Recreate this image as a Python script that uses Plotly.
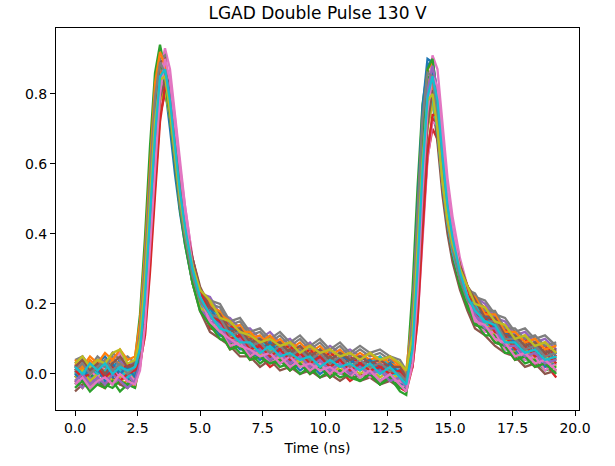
import plotly.graph_objects as go

time_ns = [0.0, 0.3, 0.6, 0.9, 1.2, 1.5, 1.8, 2.1, 2.4,
           2.6, 2.8, 3.0, 3.2, 3.4, 3.6, 3.8, 4.0, 4.2, 4.4, 4.7, 5.0,
           5.4, 5.8, 6.2, 6.6, 7.0, 7.4, 7.8, 8.2, 8.6, 9.0, 9.4, 9.8, 10.2, 10.6,
           11.0, 11.4, 11.8, 12.2, 12.6, 13.0, 13.25,
           13.5, 13.7, 13.9, 14.1, 14.3, 14.5, 14.7, 14.9, 15.1, 15.4, 15.7,
           16.0, 16.4, 16.8, 17.2, 17.6, 18.0, 18.4, 18.8, 19.25]

w01 = [0.02, 0.04, 0.01, 0.03, 0.05, 0.02, 0.04, 0.01, 0.03,
       0.10, 0.27, 0.49, 0.73, 0.85, 0.86, 0.75, 0.61, 0.49, 0.40, 0.29, 0.22,
       0.20, 0.15, 0.14, 0.13, 0.09, 0.10, 0.07, 0.09, 0.06, 0.08, 0.05, 0.07, 0.04, 0.06, 0.03, 0.05, 0.04, 0.02, 0.04, 0.01,
       -0.01,
       0.11, 0.39, 0.68, 0.88, 0.90, 0.79, 0.61, 0.49, 0.40, 0.30, 0.24,
       0.21, 0.16, 0.16, 0.11, 0.11, 0.08, 0.09, 0.06, 0.07]
w02 = [-0.02, -0.04, -0.01, -0.03, -0.04, -0.01, -0.03, -0.02, -0.04,
       0.03, 0.17, 0.39, 0.63, 0.81, 0.84, 0.76, 0.63, 0.50, 0.40, 0.27, 0.19,
       0.14, 0.13, 0.08, 0.09, 0.05, 0.06, 0.03, 0.05, 0.02, 0.04, 0.01, 0.03, 0.00, 0.02, 0.01, -0.01, 0.01, -0.02, 0.00, -0.03,
       -0.03,
       0.05, 0.30, 0.59, 0.81, 0.87, 0.80, 0.64, 0.50, 0.40, 0.28, 0.21,
       0.15, 0.14, 0.10, 0.09, 0.05, 0.06, 0.03, 0.04, 0.01]
w03 = [0.00, 0.02, -0.01, 0.01, 0.03, 0.00, 0.02, -0.01, 0.04,
       0.17, 0.39, 0.65, 0.86, 0.94, 0.87, 0.74, 0.60, 0.48, 0.39, 0.28, 0.20,
       0.18, 0.13, 0.12, 0.08, 0.09, 0.06, 0.08, 0.05, 0.06, 0.03, 0.05, 0.02, 0.04, 0.02, 0.03, 0.01, 0.03, 0.00, 0.02, -0.01,
       -0.02,
       0.24, 0.53, 0.77, 0.87, 0.84, 0.69, 0.54, 0.43, 0.35, 0.26, 0.20,
       0.19, 0.14, 0.14, 0.09, 0.09, 0.06, 0.07, 0.04, 0.05]
w04 = [-0.01, 0.01, -0.03, -0.01, -0.03, 0.01, -0.02, 0.00, -0.02,
       0.02, 0.13, 0.33, 0.55, 0.74, 0.80, 0.74, 0.63, 0.51, 0.41, 0.29, 0.21,
       0.13, 0.12, 0.07, 0.08, 0.04, 0.05, 0.02, 0.04, 0.01, 0.03, 0.00, 0.02, -0.01, 0.01, -0.02, 0.00, -0.01, -0.02, -0.01, -0.04,
       -0.05,
       0.02, 0.18, 0.42, 0.62, 0.70, 0.67, 0.55, 0.44, 0.36, 0.29, 0.23,
       0.14, 0.13, 0.09, 0.08, 0.04, 0.05, 0.02, 0.03, -0.01]
w05 = [0.03, 0.05, 0.02, 0.04, 0.02, 0.06, 0.04, 0.02, 0.04,
       0.11, 0.29, 0.51, 0.76, 0.89, 0.90, 0.79, 0.65, 0.52, 0.42, 0.30, 0.23,
       0.22, 0.17, 0.16, 0.13, 0.13, 0.10, 0.12, 0.09, 0.10, 0.07, 0.09, 0.06, 0.08, 0.06, 0.07, 0.05, 0.06, 0.04, 0.05, 0.03,
       0.00,
       0.12, 0.38, 0.65, 0.82, 0.84, 0.74, 0.58, 0.46, 0.38, 0.30, 0.24,
       0.22, 0.20, 0.16, 0.15, 0.11, 0.12, 0.09, 0.10, 0.07]
w06 = [-0.05, -0.03, -0.04, -0.02, -0.04, -0.01, -0.03, -0.04, -0.01,
       0.08, 0.28, 0.53, 0.76, 0.88, 0.84, 0.73, 0.59, 0.47, 0.38, 0.26, 0.18,
       0.12, 0.10, 0.08, 0.05, 0.05, 0.02, 0.04, 0.01, 0.02, 0.00, 0.01, -0.01, 0.00, -0.02, 0.00, -0.02, -0.01, -0.03, -0.02, -0.04,
       -0.04,
       0.13, 0.40, 0.65, 0.79, 0.78, 0.66, 0.51, 0.40, 0.32, 0.24, 0.18,
       0.13, 0.11, 0.08, 0.06, 0.05, 0.02, 0.03, 0.00, 0.01]
w07 = [0.01, 0.03, 0.00, 0.03, 0.01, 0.04, 0.06, 0.02, 0.01,
       0.05, 0.18, 0.40, 0.65, 0.86, 0.93, 0.87, 0.74, 0.60, 0.48, 0.33, 0.24,
       0.18, 0.16, 0.11, 0.12, 0.08, 0.09, 0.06, 0.09, 0.05, 0.07, 0.04, 0.06, 0.03, 0.05, 0.02, 0.04, 0.02, 0.04, 0.01, 0.02,
       -0.01,
       0.04, 0.25, 0.55, 0.80, 0.91, 0.87, 0.72, 0.56, 0.45, 0.33, 0.25,
       0.20, 0.15, 0.15, 0.10, 0.10, 0.07, 0.08, 0.05, 0.06]
w08 = [0.04, 0.05, 0.02, 0.05, 0.03, 0.06, 0.04, 0.05, 0.03,
       0.12, 0.30, 0.53, 0.78, 0.90, 0.91, 0.80, 0.66, 0.54, 0.44, 0.31, 0.24,
       0.21, 0.20, 0.15, 0.16, 0.12, 0.13, 0.10, 0.12, 0.09, 0.11, 0.08, 0.10, 0.07, 0.09, 0.06, 0.08, 0.06, 0.07, 0.05, 0.04,
       0.01,
       0.11, 0.37, 0.63, 0.80, 0.82, 0.73, 0.57, 0.46, 0.38, 0.31, 0.25,
       0.22, 0.21, 0.17, 0.16, 0.12, 0.13, 0.10, 0.11, 0.08]
w09 = [-0.02, 0.00, -0.03, -0.01, 0.00, -0.03, -0.02, -0.01, -0.03,
       0.03, 0.17, 0.38, 0.61, 0.79, 0.83, 0.75, 0.62, 0.50, 0.40, 0.27, 0.19,
       0.17, 0.12, 0.11, 0.08, 0.08, 0.05, 0.07, 0.04, 0.05, 0.02, 0.04, 0.01, 0.03, 0.01, 0.02, 0.00, 0.02, -0.01, 0.01, -0.02,
       -0.03,
       0.05, 0.25, 0.51, 0.70, 0.77, 0.71, 0.56, 0.44, 0.35, 0.26, 0.20,
       0.16, 0.15, 0.11, 0.10, 0.06, 0.07, 0.04, 0.05, 0.02]
w10 = [0.00, 0.02, 0.01, 0.03, -0.01, 0.02, 0.00, 0.02, -0.01,
       0.05, 0.19, 0.39, 0.62, 0.79, 0.82, 0.74, 0.62, 0.49, 0.39, 0.27, 0.20,
       0.16, 0.15, 0.10, 0.11, 0.07, 0.08, 0.05, 0.07, 0.04, 0.06, 0.03, 0.05, 0.02, 0.04, 0.02, 0.03, 0.01, 0.03, 0.00, 0.00,
       -0.02,
       0.06, 0.28, 0.54, 0.74, 0.80, 0.74, 0.58, 0.46, 0.37, 0.28, 0.22,
       0.19, 0.14, 0.14, 0.09, 0.09, 0.06, 0.07, 0.03, 0.05]
w11 = [-0.01, 0.01, -0.02, 0.01, -0.02, -0.01, 0.01, -0.02, 0.01,
       0.10, 0.29, 0.52, 0.74, 0.85, 0.82, 0.70, 0.57, 0.46, 0.37, 0.26, 0.19,
       0.15, 0.11, 0.10, 0.07, 0.07, 0.04, 0.06, 0.03, 0.04, 0.01, 0.03, 0.00, 0.02, 0.00, 0.01, -0.01, 0.01, -0.02, 0.00, -0.03,
       -0.03,
       0.16, 0.47, 0.76, 0.90, 0.89, 0.75, 0.58, 0.46, 0.38, 0.29, 0.22,
       0.17, 0.12, 0.12, 0.07, 0.07, 0.04, 0.05, 0.02, 0.03]
w12 = [0.03, 0.01, 0.04, 0.02, 0.01, 0.04, 0.03, 0.01, 0.03,
       0.10, 0.27, 0.50, 0.74, 0.86, 0.87, 0.77, 0.63, 0.51, 0.41, 0.29, 0.22,
       0.19, 0.18, 0.13, 0.14, 0.10, 0.11, 0.08, 0.10, 0.07, 0.09, 0.06, 0.08, 0.05, 0.07, 0.04, 0.06, 0.04, 0.05, 0.03, 0.02,
       0.00,
       0.12, 0.39, 0.68, 0.87, 0.89, 0.78, 0.61, 0.49, 0.40, 0.31, 0.25,
       0.21, 0.19, 0.15, 0.14, 0.10, 0.11, 0.08, 0.09, 0.06]
w13 = [-0.03, -0.01, -0.04, -0.02, -0.03, -0.04, -0.02, -0.03, -0.01,
       0.09, 0.29, 0.54, 0.77, 0.89, 0.85, 0.74, 0.60, 0.48, 0.39, 0.27, 0.19,
       0.14, 0.10, 0.09, 0.06, 0.06, 0.03, 0.05, 0.02, 0.03, 0.00, 0.02, -0.01, 0.01, -0.01, 0.00, -0.02, 0.00, -0.03, -0.01, -0.04,
       -0.04,
       0.14, 0.43, 0.70, 0.85, 0.84, 0.71, 0.55, 0.43, 0.34, 0.25, 0.19,
       0.15, 0.11, 0.11, 0.06, 0.06, 0.03, 0.04, 0.01, 0.02]
w14 = [0.02, 0.00, 0.03, 0.01, 0.04, 0.02, 0.00, 0.03, 0.01,
       0.05, 0.17, 0.37, 0.59, 0.78, 0.83, 0.77, 0.66, 0.54, 0.44, 0.31, 0.23,
       0.20, 0.16, 0.14, 0.11, 0.11, 0.08, 0.10, 0.07, 0.08, 0.05, 0.07, 0.04, 0.06, 0.04, 0.05, 0.03, 0.04, 0.02, 0.03, 0.00,
       -0.02,
       0.03, 0.20, 0.44, 0.64, 0.73, 0.70, 0.58, 0.46, 0.37, 0.30, 0.25,
       0.19, 0.18, 0.14, 0.13, 0.09, 0.10, 0.07, 0.08, 0.05]
w15 = [-0.02, -0.04, -0.01, -0.03, 0.00, -0.03, -0.01, 0.00, -0.03,
       0.06, 0.23, 0.45, 0.69, 0.83, 0.84, 0.74, 0.60, 0.48, 0.38, 0.26, 0.19,
       0.15, 0.14, 0.09, 0.10, 0.06, 0.07, 0.04, 0.06, 0.03, 0.05, 0.02, 0.04, 0.01, 0.03, 0.01, 0.02, 0.00, 0.02, -0.01, -0.02,
       -0.03,
       0.08, 0.33, 0.60, 0.78, 0.81, 0.71, 0.55, 0.43, 0.35, 0.27, 0.21,
       0.18, 0.13, 0.13, 0.08, 0.08, 0.05, 0.06, 0.03, 0.04]
w16 = [0.01, 0.03, 0.02, 0.00, 0.03, 0.00, 0.02, 0.01, 0.03,
       0.09, 0.27, 0.50, 0.75, 0.89, 0.90, 0.79, 0.64, 0.52, 0.42, 0.29, 0.21,
       0.19, 0.14, 0.13, 0.10, 0.10, 0.07, 0.09, 0.06, 0.07, 0.04, 0.06, 0.03, 0.05, 0.03, 0.04, 0.02, 0.04, 0.01, 0.03, 0.00,
       -0.01,
       0.11, 0.37, 0.65, 0.83, 0.85, 0.75, 0.58, 0.46, 0.38, 0.29, 0.23,
       0.18, 0.17, 0.13, 0.12, 0.08, 0.09, 0.06, 0.07, 0.04]
w17 = [0.00, -0.02, 0.01, -0.01, 0.03, 0.01, -0.01, 0.01, -0.02,
       0.03, 0.11, 0.31, 0.55, 0.77, 0.88, 0.84, 0.73, 0.59, 0.48, 0.33, 0.24,
       0.14, 0.13, 0.08, 0.09, 0.05, 0.07, 0.03, 0.05, 0.02, 0.04, 0.01, 0.03, 0.00, 0.03, -0.01, 0.02, -0.01, 0.01, -0.02, -0.02,
       -0.03,
       0.02, 0.15, 0.38, 0.61, 0.72, 0.71, 0.61, 0.47, 0.37, 0.28, 0.21,
       0.16, 0.12, 0.12, 0.07, 0.08, 0.04, 0.05, 0.01, 0.03]
w18 = [0.02, 0.04, 0.01, 0.03, 0.02, 0.05, 0.02, 0.00, 0.02,
       0.07, 0.22, 0.43, 0.67, 0.84, 0.86, 0.78, 0.65, 0.52, 0.42, 0.29, 0.22,
       0.20, 0.19, 0.14, 0.15, 0.11, 0.12, 0.09, 0.11, 0.08, 0.10, 0.07, 0.09, 0.06, 0.08, 0.05, 0.07, 0.05, 0.06, 0.04, 0.03,
       -0.01,
       0.07, 0.30, 0.57, 0.77, 0.83, 0.76, 0.61, 0.47, 0.38, 0.30, 0.24,
       0.23, 0.18, 0.18, 0.13, 0.13, 0.10, 0.11, 0.08, 0.09]
w19 = [-0.01, 0.01, -0.02, 0.00, 0.01, -0.02, -0.01, 0.01, -0.01,
       0.04, 0.18, 0.38, 0.61, 0.78, 0.81, 0.73, 0.61, 0.49, 0.39, 0.26, 0.19,
       0.17, 0.13, 0.12, 0.09, 0.09, 0.06, 0.08, 0.05, 0.06, 0.03, 0.05, 0.02, 0.04, 0.02, 0.03, 0.01, 0.03, 0.00, 0.02, -0.01,
       -0.02,
       0.05, 0.26, 0.52, 0.72, 0.78, 0.72, 0.57, 0.44, 0.36, 0.27, 0.21,
       0.17, 0.16, 0.12, 0.11, 0.07, 0.08, 0.05, 0.06, 0.03]
w20 = [0.01, -0.01, 0.02, 0.00, 0.01, 0.03, 0.01, -0.01, 0.01,
       0.08, 0.25, 0.47, 0.71, 0.83, 0.84, 0.74, 0.61, 0.49, 0.40, 0.28, 0.21,
       0.18, 0.17, 0.12, 0.13, 0.09, 0.10, 0.07, 0.09, 0.06, 0.08, 0.05, 0.07, 0.04, 0.06, 0.04, 0.05, 0.03, 0.05, 0.02, 0.01,
       -0.02,
       0.09, 0.34, 0.59, 0.76, 0.79, 0.69, 0.54, 0.43, 0.35, 0.27, 0.21,
       0.20, 0.16, 0.16, 0.11, 0.11, 0.08, 0.09, 0.05, 0.06]
w21 = [0.00, -0.02, 0.02, 0.01, -0.01, 0.03, 0.00, 0.02, -0.01,
       0.05, 0.20, 0.42, 0.67, 0.84, 0.88, 0.79, 0.66, 0.53, 0.42, 0.31, 0.23,
       0.19, 0.14, 0.13, 0.12, 0.08, 0.07, 0.09, 0.06, 0.05, 0.07, 0.04, 0.05, 0.02, 0.05, 0.04, 0.02, 0.04, 0.01, 0.03, 0.00,
       -0.02,
       0.07, 0.30, 0.58, 0.80, 0.86, 0.79, 0.63, 0.49, 0.40, 0.29, 0.22,
       0.18, 0.17, 0.13, 0.12, 0.09, 0.07, 0.08, 0.05, 0.06]
w22 = [0.04, 0.02, 0.05, 0.03, 0.06, 0.04, 0.07, 0.04, 0.05,
       0.15, 0.35, 0.60, 0.83, 0.92, 0.88, 0.77, 0.63, 0.51, 0.42, 0.31, 0.24,
       0.20, 0.17, 0.15, 0.12, 0.12, 0.09, 0.11, 0.08, 0.09, 0.07, 0.08, 0.05, 0.07, 0.05, 0.06, 0.04, 0.06, 0.03, 0.05, 0.02,
       0.01,
       0.17, 0.45, 0.71, 0.84, 0.83, 0.71, 0.55, 0.44, 0.36, 0.29, 0.23,
       0.22, 0.17, 0.17, 0.12, 0.12, 0.09, 0.10, 0.07, 0.08]
w23 = [-0.04, -0.02, -0.05, -0.03, -0.04, -0.02, -0.05, -0.03, -0.04,
       0.04, 0.21, 0.44, 0.68, 0.83, 0.84, 0.73, 0.59, 0.47, 0.37, 0.26, 0.18,
       0.14, 0.12, 0.07, 0.08, 0.04, 0.05, 0.03, 0.04, 0.01, 0.03, 0.00, 0.02, -0.01, 0.01, -0.01, -0.02, 0.00, -0.03, -0.01, -0.05,
       -0.06,
       0.09, 0.37, 0.67, 0.87, 0.90, 0.79, 0.60, 0.47, 0.38, 0.27, 0.20,
       0.14, 0.13, 0.09, 0.08, 0.04, 0.05, 0.02, 0.03, 0.00]
w24 = [0.01, -0.01, 0.00, 0.02, -0.01, 0.01, -0.02, 0.00, 0.01,
       0.03, 0.11, 0.29, 0.51, 0.72, 0.82, 0.79, 0.68, 0.55, 0.44, 0.33, 0.24,
       0.17, 0.15, 0.10, 0.11, 0.07, 0.08, 0.05, 0.07, 0.04, 0.06, 0.03, 0.05, 0.02, 0.04, 0.01, 0.03, 0.01, 0.02, 0.00, 0.01,
       -0.02,
       0.02, 0.15, 0.40, 0.63, 0.74, 0.74, 0.63, 0.49, 0.39, 0.30, 0.23,
       0.17, 0.16, 0.12, 0.11, 0.07, 0.08, 0.05, 0.06, 0.03]
w25 = [-0.02, 0.00, -0.03, -0.01, -0.03, 0.00, -0.02, -0.04, -0.02,
       0.03, 0.18, 0.40, 0.64, 0.82, 0.87, 0.78, 0.65, 0.52, 0.41, 0.29, 0.21,
       0.16, 0.14, 0.09, 0.10, 0.06, 0.07, 0.04, 0.06, 0.03, 0.05, 0.02, 0.04, 0.01, 0.03, 0.00, 0.02, 0.00, 0.01, -0.02, -0.01,
       -0.04,
       0.05, 0.29, 0.58, 0.81, 0.88, 0.81, 0.64, 0.50, 0.40, 0.28, 0.21,
       0.17, 0.13, 0.13, 0.08, 0.08, 0.05, 0.06, 0.03, 0.04]
w26 = [0.02, 0.04, 0.01, 0.03, 0.00, 0.03, 0.05, 0.02, 0.03,
       0.05, 0.17, 0.37, 0.60, 0.79, 0.84, 0.78, 0.66, 0.54, 0.43, 0.33, 0.25,
       0.19, 0.17, 0.12, 0.13, 0.09, 0.10, 0.08, 0.09, 0.06, 0.08, 0.05, 0.07, 0.04, 0.06, 0.04, 0.05, 0.03, 0.04, 0.02, 0.02,
       -0.01,
       0.04, 0.22, 0.49, 0.71, 0.81, 0.78, 0.64, 0.50, 0.40, 0.31, 0.25,
       0.21, 0.16, 0.16, 0.11, 0.11, 0.08, 0.09, 0.06, 0.07]
w27 = [-0.03, -0.01, -0.04, -0.02, -0.01, -0.03, 0.00, -0.02, -0.03,
       0.01, 0.14, 0.35, 0.59, 0.80, 0.90, 0.84, 0.71, 0.58, 0.46, 0.31, 0.22,
       0.15, 0.12, 0.10, 0.08, 0.07, 0.05, 0.06, 0.03, 0.05, 0.02, 0.03, 0.01, 0.02, 0.00, 0.02, -0.01, 0.01, -0.02, 0.00, -0.03,
       -0.05,
       0.03, 0.23, 0.52, 0.75, 0.85, 0.82, 0.67, 0.52, 0.42, 0.30, 0.22,
       0.15, 0.14, 0.10, 0.09, 0.05, 0.06, 0.03, 0.04, 0.01]
w28 = [0.01, 0.03, 0.00, 0.02, 0.04, 0.01, 0.03, 0.00, 0.02,
       0.12, 0.32, 0.56, 0.79, 0.89, 0.86, 0.74, 0.60, 0.48, 0.39, 0.28, 0.21,
       0.17, 0.16, 0.11, 0.12, 0.08, 0.09, 0.06, 0.08, 0.05, 0.07, 0.04, 0.06, 0.03, 0.05, 0.02, 0.04, 0.02, 0.03, 0.01, 0.00,
       -0.02,
       0.17, 0.46, 0.73, 0.86, 0.85, 0.72, 0.56, 0.44, 0.36, 0.27, 0.21,
       0.19, 0.15, 0.15, 0.10, 0.10, 0.07, 0.08, 0.05, 0.06]
w29 = [0.03, 0.05, 0.02, 0.04, 0.03, 0.06, 0.07, 0.03, 0.04,
       0.10, 0.27, 0.49, 0.72, 0.84, 0.85, 0.75, 0.62, 0.50, 0.41, 0.31, 0.24,
       0.21, 0.16, 0.15, 0.12, 0.11, 0.09, 0.10, 0.08, 0.09, 0.06, 0.08, 0.06, 0.07, 0.05, 0.06, 0.04, 0.06, 0.04, 0.05, 0.03,
       0.01,
       0.11, 0.35, 0.61, 0.78, 0.80, 0.70, 0.55, 0.44, 0.37, 0.30, 0.25,
       0.20, 0.19, 0.15, 0.14, 0.10, 0.11, 0.08, 0.09, 0.06]
w30 = [0.02, 0.00, 0.03, 0.01, 0.03, 0.00, 0.02, 0.01, 0.02,
       0.07, 0.22, 0.44, 0.68, 0.85, 0.87, 0.78, 0.65, 0.52, 0.42, 0.30, 0.22,
       0.17, 0.13, 0.12, 0.09, 0.09, 0.06, 0.08, 0.05, 0.06, 0.04, 0.05, 0.02, 0.04, 0.02, 0.03, 0.01, 0.03, 0.00, 0.02, -0.01,
       -0.03,
       0.07, 0.30, 0.58, 0.79, 0.85, 0.78, 0.62, 0.48, 0.39, 0.29, 0.22,
       0.18, 0.15, 0.14, 0.09, 0.09, 0.06, 0.07, 0.04, 0.05]

waveforms = [w01, w02, w03, w04, w05, w06, w07, w08, w09, w10,
             w11, w12, w13, w14, w15, w16, w17, w18, w19, w20,
             w21, w22, w23, w24, w25, w26, w27, w28, w29, w30]

x_tick_vals = [0.0, 2.5, 5.0, 7.5, 10.0, 12.5, 15.0, 17.5, 20.0]
y_tick_vals = [0.0, 0.2, 0.4, 0.6, 0.8]

palette = ["#1f77b4", "#ff7f0e", "#2ca02c", "#d62728", "#9467bd",
           "#8c564b", "#e377c2", "#7f7f7f", "#bcbd22", "#17becf"]

fig = go.Figure()
for i, w in enumerate(waveforms):
    fig.add_trace(go.Scatter(x=time_ns, y=w, mode="lines",
                             line=dict(color=palette[i % 10], width=2.3),
                             showlegend=False, hoverinfo="skip"))

font = "DejaVu Sans"
fig.update_layout(
    width=615, height=466,
    margin=dict(l=56, r=36, t=28, b=48),
    paper_bgcolor="white", plot_bgcolor="white",
    font=dict(family=font, size=14, color="black"),
    title=dict(text="LGAD Double Pulse 130 V", x=0.5, xref="paper",
               y=1 - 13 / 466, yref="container", yanchor="middle",
               font=dict(family=font, size=17, color="black")),
    showlegend=False,
)
axis_common = dict(showline=True, mirror=True, linecolor="black", linewidth=1,
                   ticks="outside", ticklen=5, tickwidth=1, tickcolor="black",
                   showgrid=False, zeroline=False, tickformat=".1f")
fig.update_xaxes(range=[-0.76, 20.16], tickvals=x_tick_vals,
                 title=dict(text="Time (ns)", standoff=8,
                            font=dict(family=font, size=14)),
                 **axis_common)
fig.update_yaxes(range=[-0.103, 0.988], tickvals=y_tick_vals, **axis_common)

fig.write_html("out.html")
